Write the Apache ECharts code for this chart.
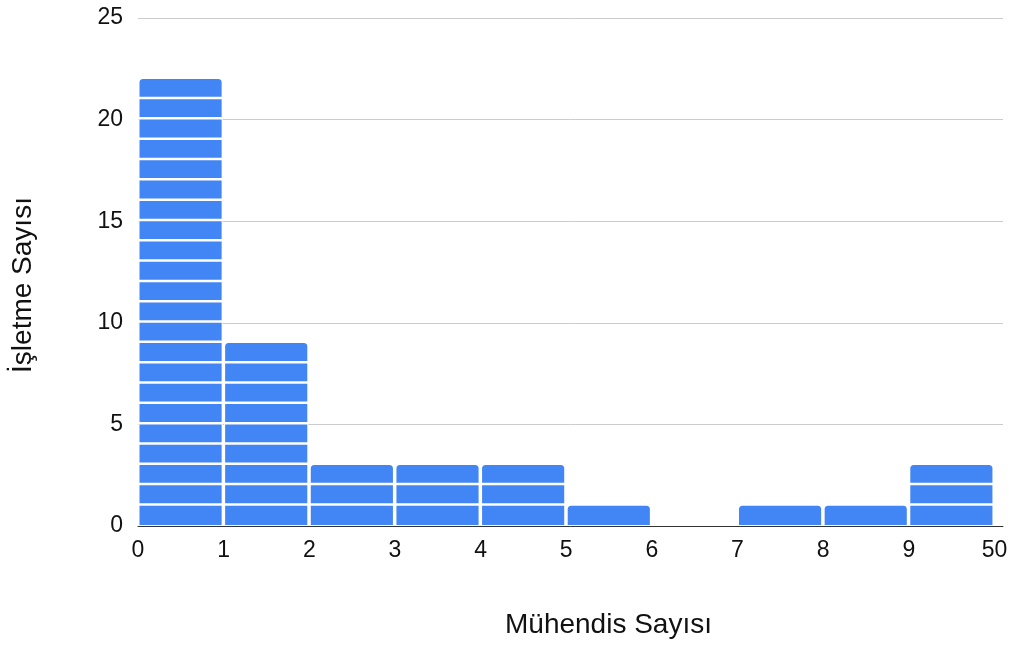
<!DOCTYPE html>
<html>
<head>
<meta charset="utf-8">
<script src="https://cdn.jsdelivr.net/npm/echarts@6/dist/echarts.min.js"></script>
<style>
  html, body { margin: 0; padding: 0; background: #fff; }
  #chart { width: 1012px; height: 646px; }
</style>
</head>
<body>
<div id="chart"></div>
<script>
// Histogram bins: tick labels at the bin edges, and how many firms fall in each bin
const binEdgeLabels = ['0', '1', '2', '3', '4', '5', '6', '7', '8', '9', '50'];
const firmCounts = [22, 9, 3, 3, 3, 1, 0, 1, 1, 3];
const yTicks = [0, 5, 10, 15, 20, 25];

const xTitle = 'Mühendis Sayısı';
const yTitle = 'İşletme Sayısı';

const FONT = '"Liberation Sans", Arial, sans-serif';
const TEXT = '#111111';
const BAR_BLUE = '#4285F4';

const chart = echarts.init(document.getElementById('chart'), null, { renderer: 'canvas' });

// Each bar is drawn as a stack of one-unit blocks separated by thin white gaps
function renderBin(params, api) {
  const bin = api.value(0);
  const count = api.value(1);
  if (!count) return null;
  const xLeft = api.coord([bin, 0])[0];
  const xRight = api.coord([bin + 1, 0])[0];
  const left = xLeft + 1.5;
  const width = xRight - xLeft - 3.5;
  const children = [];
  // white backing so grid lines never show through the gaps
  const yTopAll = api.coord([bin, count])[1];
  const yBase = api.coord([bin, 0])[1];
  children.push({
    type: 'rect',
    shape: { x: left - 1, y: yTopAll - 1, width: width + 2, height: yBase - yTopAll + 1 },
    style: { fill: '#ffffff' }
  });
  for (let k = 0; k < count; k++) {
    const yTop = api.coord([bin, k + 1])[1];
    const yBot = api.coord([bin, k])[1];
    const isTop = k === count - 1;
    const bottomGap = k === 0 ? 1 : 2.5;
    children.push({
      type: 'rect',
      shape: { x: left, y: yTop, width: width, height: yBot - yTop - bottomGap, r: isTop ? [3.5, 3.5, 0, 0] : 0 },
      style: { fill: BAR_BLUE }
    });
  }
  return { type: 'group', children: children };
}

const option = {
  animation: false,
  backgroundColor: '#ffffff',
  textStyle: { fontFamily: FONT },
  grid: { left: 138, right: 9, top: 18, bottom: 120, containLabel: false },
  xAxis: {
    type: 'value',
    min: 0,
    max: 10.1,
    interval: 1,
    name: xTitle,
    nameLocation: 'middle',
    nameGap: 85,
    nameTextStyle: { fontFamily: FONT, fontSize: 28, color: TEXT, padding: [0, 0, 0, 76] },
    axisLine: { show: true, lineStyle: { color: '#333', width: 1 } },
    axisTick: { show: false },
    splitLine: { show: false },
    axisLabel: {
      fontFamily: FONT,
      fontSize: 23,
      color: TEXT,
      margin: 13,
      showMaxLabel: true,
      formatter: function (v) {
        const r = Math.round(v);
        return Math.abs(v - r) < 1e-6 && binEdgeLabels[r] !== undefined ? binEdgeLabels[r] : '';
      }
    }
  },
  yAxis: {
    type: 'value',
    min: yTicks[0],
    max: yTicks[yTicks.length - 1],
    interval: yTicks[1] - yTicks[0],
    name: yTitle,
    nameLocation: 'middle',
    nameGap: 101,
    nameTextStyle: { fontFamily: FONT, fontSize: 28, color: TEXT, padding: [0, 26, 0, 0] },
    axisLine: { show: false },
    axisTick: { show: false },
    splitLine: { show: true, lineStyle: { color: '#cccccc', width: 1 } },
    axisLabel: { fontFamily: FONT, fontSize: 23, color: TEXT, margin: 15, padding: [3, 0, 0, 0] }
  },
  series: [{
    type: 'custom',
    renderItem: renderBin,
    encode: { x: 0, y: 1 },
    data: firmCounts.map(function (c, i) { return [i, c]; }),
    clip: false,
    z: 2
  }]
};

chart.setOption(option);
</script>
</body>
</html>
